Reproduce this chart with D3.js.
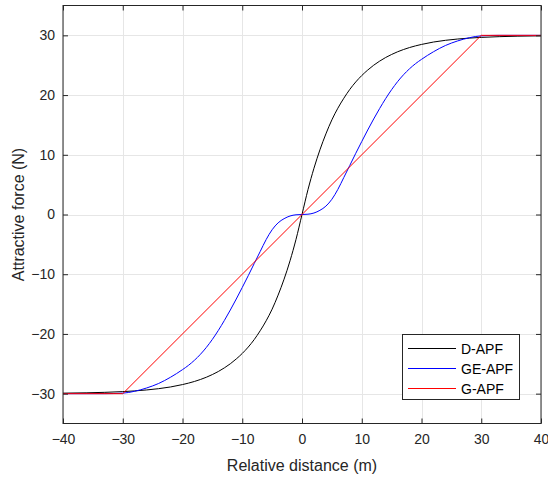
<!DOCTYPE html>
<html>
<head>
<meta charset="utf-8">
<script src="https://cdn.jsdelivr.net/npm/d3@7"></script>
<style>
  body { margin: 0; background: #fff; }
  svg { display: block; font-family: "Liberation Sans", Arial, sans-serif; }
</style>
</head>
<body>
<svg id="chart" width="548" height="479"></svg>
<script>
// ---- data ----
const xValues = [-40, -36, -33, -30, -28, -26, -24, -22, -20, -19, -18, -17, -16, -15, -14, -13, -12, -11, -10, -9, -8, -7, -6, -5, -4, -3, -2, -1,
                 0, 1, 2, 3, 4, 5, 6, 7, 8, 9, 10, 11, 12, 13, 14, 15, 16, 17, 18, 19, 20, 22, 24, 26, 28, 30, 33, 36, 40];
const dApf  = [-29.92, -29.86, -29.78, -29.66, -29.54, -29.38, -29.17, -28.88, -28.48, -28.24, -27.96, -27.63, -27.25, -26.8, -26.29, -25.69, -25.0, -24.19, -23.27, -22.2, -20.95, -19.47, -17.8, -15.85, -13.5, -10.83, -7.74, -4.16,
                 0, 4.16, 7.74, 10.83, 13.5, 15.85, 17.8, 19.47, 20.95, 22.2, 23.27, 24.19, 25.0, 25.69, 26.29, 26.8, 27.25, 27.63, 27.96, 28.24, 28.48, 28.88, 29.17, 29.38, 29.54, 29.66, 29.78, 29.86, 29.92];
const geApf = [-30, -30, -30, -29.92, -29.6, -29.05, -28.3, -27.25, -25.98, -25.26, -24.41, -23.41, -22.25, -20.91, -19.41, -17.76, -16.0, -14.15, -12.22, -10.25, -8.22, -6.2, -4.2, -2.55, -1.4, -0.7, -0.25, -0.05,
                 0, 0.05, 0.25, 0.7, 1.4, 2.55, 4.2, 6.2, 8.22, 10.25, 12.22, 14.15, 16.0, 17.76, 19.41, 20.91, 22.25, 23.41, 24.41, 25.26, 25.98, 27.25, 28.3, 29.05, 29.6, 29.92, 30, 30, 30];
const gX   = [-40, -30, 30, 40];
const gApf = [-30, -30, 30, 30];

const seriesNames  = ["D-APF", "GE-APF", "G-APF"];
const seriesColors = ["#000000", "#0000ff", "#ff0000"];
const xTicks = [-40, -30, -20, -10, 0, 10, 20, 30, 40];
const yTicks = [-30, -20, -10, 0, 10, 20, 30];
const xLabel = "Relative distance (m)";
const yLabel = "Attractive force (N)";

// ---- layout ----
const svg = d3.select("#chart");
const L = 63, R = 541, T = 5.5, B = 423.5;
const x = d3.scaleLinear().domain([-40, 40]).range([L, R]);
const y = d3.scaleLinear().domain([-35, 35]).range([B, T]);

// grid
const grid = svg.append("g").attr("stroke", "#e6e6e6").attr("stroke-width", 1);
xTicks.forEach(t => grid.append("line").attr("x1", Math.round(x(t)) + 0.5).attr("x2", Math.round(x(t)) + 0.5).attr("y1", T).attr("y2", B));
yTicks.forEach(t => grid.append("line").attr("y1", Math.round(y(t)) + 0.5).attr("y2", Math.round(y(t)) + 0.5).attr("x1", L).attr("x2", R));

// lines
const seriesData = [
  xValues.map((v, i) => [v, dApf[i]]),
  xValues.map((v, i) => [v, geApf[i]]),
  gX.map((v, i) => [v, gApf[i]])
];
const line = d3.line().x(d => x(d[0])).y(d => y(d[1]));
const smooth = d3.line().x(d => x(d[0])).y(d => y(d[1])).curve(d3.curveMonotoneX);
const plot = svg.append("g");
seriesData.forEach((s, i) => {
  plot.append("path").datum(s)
    .attr("d", i === 2 ? line(s) : smooth(s))
    .attr("fill", "none").attr("stroke", seriesColors[i]).attr("stroke-width", 1);
});

// axes
const axisColor = "#262626";
const tickLen = 5;
const xAxisB = d3.axisBottom(x).tickValues(xTicks).tickSizeInner(-tickLen).tickSizeOuter(0).tickPadding(11);
const xAxisT = d3.axisTop(x).tickValues(xTicks).tickSizeInner(-tickLen).tickSizeOuter(0).tickFormat("");
const yAxisL = d3.axisLeft(y).tickValues(yTicks).tickSizeInner(-tickLen).tickSizeOuter(0).tickPadding(8);
const yAxisR = d3.axisRight(y).tickValues(yTicks).tickSizeInner(-tickLen).tickSizeOuter(0).tickFormat("");

function styleAxis(g) {
  g.select(".domain").remove();
  g.selectAll("line").attr("stroke", axisColor);
  g.selectAll("text").attr("fill", "#262626").attr("font-size", 14)
    .attr("font-family", "Liberation Sans, Arial, sans-serif");
}
svg.append("g").attr("transform", `translate(0,${B})`).call(xAxisB).call(styleAxis);
svg.append("g").attr("transform", `translate(0,${T})`).call(xAxisT).call(styleAxis);
svg.append("g").attr("transform", `translate(${L},0)`).call(yAxisL).call(styleAxis);
svg.append("g").attr("transform", `translate(${R},0)`).call(yAxisR).call(styleAxis);

svg.append("rect").attr("x", L).attr("y", T).attr("width", R - L).attr("height", B - T)
  .attr("fill", "none").attr("stroke", axisColor).attr("stroke-width", 1);

// axis labels
svg.append("text").attr("x", (L + R) / 2).attr("y", 471).attr("text-anchor", "middle")
  .attr("font-size", 16).attr("fill", "#262626").text(xLabel);
svg.append("text").attr("transform", `translate(24,${(T + B) / 2}) rotate(-90)`).attr("text-anchor", "middle")
  .attr("font-size", 16).attr("fill", "#262626").text(yLabel);

// legend
const lg = svg.append("g");
lg.append("rect").attr("x", 402.5).attr("y", 334.5).attr("width", 117).attr("height", 65)
  .attr("fill", "#fff").attr("stroke", axisColor).attr("stroke-width", 1);
seriesNames.forEach((n, i) => {
  const yy = 348.5 + i * 20;
  lg.append("line").attr("x1", 408).attr("x2", 456).attr("y1", yy).attr("y2", yy)
    .attr("stroke", seriesColors[i]).attr("stroke-width", 1);
  lg.append("text").attr("x", 461).attr("y", yy + 5).attr("font-size", 14).attr("fill", "#000").text(n);
});
</script>
</body>
</html>
